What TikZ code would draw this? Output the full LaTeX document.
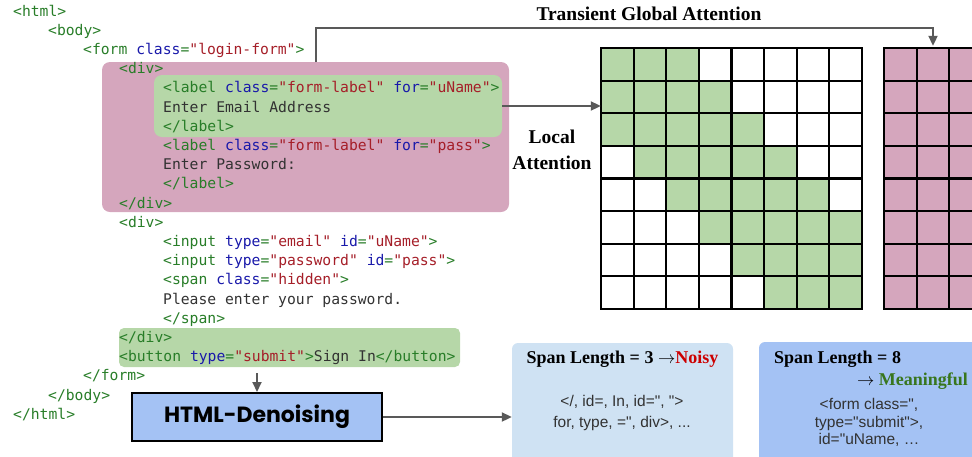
\documentclass[tikz,border=0pt]{standalone}
\usepackage{fontspec}
\setmonofont{DejaVu Sans Mono}
\newfontfamily\boxfont[Ligatures=TeXOff]{Liberation Sans}
\newfontfamily\capfont{Liberation Serif}
\newfontfamily\btnfont{Poppins}
\usetikzlibrary{arrows.meta,positioning}

\definecolor{tagc}{RGB}{40,125,40}
\definecolor{attrc}{RGB}{25,25,170}
\definecolor{valc}{RGB}{165,30,40}
\definecolor{txtc}{RGB}{50,50,50}
\definecolor{divpink}{HTML}{D5A6BD}
\definecolor{lblgreen}{HTML}{B6D7A8}
\definecolor{denblue}{HTML}{A4C2F4}
\definecolor{spanblue}{HTML}{CFE2F3}
\definecolor{arrgray}{HTML}{595959}
\definecolor{noisyred}{HTML}{CC0000}
\definecolor{meangreen}{HTML}{38761D}

\newcommand{\tg}[1]{\textcolor{tagc}{#1}}
\newcommand{\ak}[1]{\textcolor{attrc}{#1}}
\newcommand{\av}[1]{\textcolor{valc}{#1}}
\newcommand{\tx}[1]{\textcolor{txtc}{#1}}

\tikzset{
  codeline/.style={anchor=base west,inner sep=0,font=\ttfamily\fontsize{14.7}{18}\selectfont},
  hlbox/.style={rounded corners=8pt,inner sep=0},
  conn/.style={draw=arrgray,line width=2pt,-{Triangle[length=10pt,width=9pt]}},
  gridline/.style={line width=2.2pt,line cap=rect},
  captxt/.style={inner sep=0,font=\capfont\bfseries\fontsize{19.5}{26}\selectfont},
  spantitle/.style={inner sep=0,font=\capfont\bfseries\fontsize{18}{22}\selectfont},
  spanbody/.style={inner sep=0,align=center,font=\boxfont\fontsize{15.5}{21}\selectfont,text=txtc}
}

\begin{document}
\begin{tikzpicture}[x=1pt,y=-1pt]
	\useasboundingbox (0,0) rectangle (972,456);

	% highlighted spans
	\node[hlbox,fill=divpink,minimum width=407pt,minimum height=150pt] (divbox) at (305.5,137) {};
	\node[hlbox,fill=lblgreen,minimum width=348pt,minimum height=62pt] (lblbox) at (328,106) {};
	\node[hlbox,fill=lblgreen,minimum width=341pt,minimum height=39pt,rounded corners=5pt] (btnbox) at (289.5,347.5) {};

	% html source
	\foreach \i/\ind/\code in {
		0/13/{\tg{<html>}},
		1/48/{\tg{<body>}},
		2/83/{\tg{<form }\ak{class}\tg{=}\av{"login-form"}\tg{>}},
		3/119/{\tg{<div>}},
		4/163/{\tg{<label }\ak{class}\tg{=}\av{"form-label"} \ak{for}\tg{=}\av{"uName"}\tg{>}},
		5/163/{\tx{Enter Email Address}},
		6/163/{\tg{</label>}},
		7/163/{\tg{<label }\ak{class}\tg{=}\av{"form-label"} \ak{for}\tg{=}\av{"pass"}\tg{>}},
		8/163/{\tx{Enter Password:}},
		9/163/{\tg{</label>}},
		10/119/{\tg{</div>}},
		11/119/{\tg{<div>}},
		12/163/{\tg{<input }\ak{type}\tg{=}\av{"email"} \ak{id}\tg{=}\av{"uName"}\tg{>}},
		13/163/{\tg{<input }\ak{type}\tg{=}\av{"password"} \ak{id}\tg{=}\av{"pass"}\tg{>}},
		14/163/{\tg{<span }\ak{class}\tg{=}\av{"hidden"}\tg{>}},
		15/163/{\tx{Please enter your password.}},
		16/163/{\tg{</span>}},
		17/119/{\tg{</div>}},
		18/119/{\tg{<button }\ak{type}\tg{=}\av{"submit"}\tg{>}\tx{Sign In}\tg{</button>}},
		19/83/{\tg{</form>}},
		20/48/{\tg{</body>}},
		21/13/{\tg{</html>}}}
	{ \node[codeline] (l\i) at (\ind,{16+19.2*\i}) {\code}; }

	% local attention grid
	\foreach \r in {0,...,7} { \foreach \c in {0,...,7} {
		\pgfmathtruncatemacro{\dd}{abs(\r-\c)}
		\ifnum\dd<3 \fill[lblgreen] ({601+32.625*\c},{48+32.625*\r}) rectangle +(32.625,32.625); \fi
	} }
	\foreach \k in {0,...,8} {
		\draw[gridline] ({601+32.625*\k},48) -- ++(0,261);
		\draw[gridline] (601,{48+32.625*\k}) -- ++(261,0);
	}
	\node[minimum width=261pt,minimum height=261pt,inner sep=0] (localgrid) at (731.5,178.5) {};

	% transient global grid
	\fill[divpink] (884,48) rectangle (1014,309);
	\foreach \k in {0,...,3} { \draw[gridline] ({884+32.625*\k},48) -- ++(0,261); }
	\foreach \k in {0,...,8} { \draw[gridline] (884,{48+32.625*\k}) -- ++(130,0); }
	\node[minimum width=130.5pt,minimum height=261pt,inner sep=0] (globalgrid) at (949.25,178.5) {};

	\node[captxt] (tgalabel) at (649,14) {Transient Global Attention};
	\node[captxt,align=center] (lalabel) at (552,150) {Local\\Attention};

	% denoising
	\node[draw=black,line width=2pt,fill=denblue,minimum width=250pt,minimum height=48pt,inner sep=0,font=\btnfont\bfseries\fontsize{22}{24}\selectfont] (denoise) at (257,417) {HTML-Denoising};

	\node[fill=spanblue,rounded corners=6pt,minimum width=221pt,minimum height=127pt,inner sep=0] (span1) at (622.5,406.5) {};
	\node[fill=denblue,rounded corners=6pt,minimum width=231pt,minimum height=128pt,inner sep=0] (span2) at (874.5,406) {};

	\node[spantitle] (s1title) at (622.5,359) {Span Length = 3 $\rightarrow$\textcolor{noisyred}{Noisy}};
	\node[spanbody] (s1body) at (622,412.5) {</, id=, In, id=", ">\\for, type, =", div>, ...};
	\node[spantitle,anchor=west] (s2title) at (774,359) {Span Length = 8};
	\node[spantitle,anchor=east] (s2mean) at (968,381) {$\rightarrow$ \textcolor{meangreen}{Meaningful}};
	\node[spanbody,font=\boxfont\fontsize{15.5}{17.5}\selectfont] (s2body) at (869,422.5) {<form class=",\\type="submit">,\\id="uName, \ldots};

	% connectors
	\coordinate (tgstart) at (316,62);
	\coordinate (tgcorner) at (933,28);
	\draw[conn] (tgstart) |- (tgcorner) -- ([yshift=2pt]tgcorner |- globalgrid.north);
	\draw[conn] (lblbox.east) -- (lblbox.east -| localgrid.west);
	\coordinate (btnout) at ([yshift=-6pt]btnbox.south -| denoise.north);
	\draw[conn] (btnout) -- (denoise.north);
	\draw[conn] (denoise.east) -- (denoise.east -| span1.west);
\end{tikzpicture}
\end{document}
